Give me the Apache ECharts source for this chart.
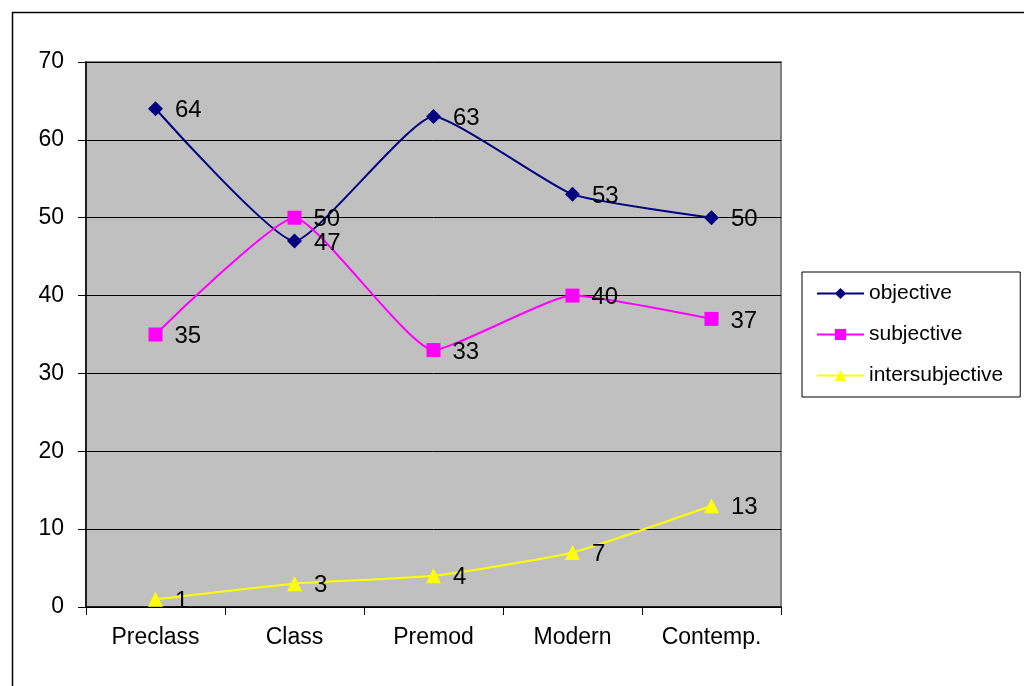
<!DOCTYPE html>
<html>
<head>
<meta charset="utf-8">
<script src="https://cdn.jsdelivr.net/npm/echarts@6/dist/echarts.min.js"></script>
<style>
html,body{margin:0;padding:0;background:#fff;}
#chart{width:1024px;height:686px;}
</style>
</head>
<body>
<div id="chart"></div>
<script>
const categories = ["Preclass", "Class", "Premod", "Modern", "Contemp."];
const objective = [64, 47, 63, 53, 50];
const subjective = [35, 50, 33, 40, 37];
const intersubjective = [1, 3, 4, 7, 13];
const seriesNames = ["objective", "subjective", "intersubjective"];

const FONT = "Arial, 'Liberation Sans', sans-serif";
const chart = echarts.init(document.getElementById('chart'));

function lineSeries(name, data, color, symbol, size) {
  return {
    name: name,
    type: 'line',
    data: data,
    smooth: 0.15,
    symbol: symbol,
    symbolSize: size,
    showAllSymbol: true,
    lineStyle: { color: color, width: 2 },
    itemStyle: { color: color },
    label: {
      show: true,
      position: 'right',
      distance: 12,
      offset: [0, 2],
      color: '#000',
      fontSize: 24,
      fontFamily: FONT
    },
    emphasis: { disabled: true },
    z: 3
  };
}

chart.setOption({
  animation: false,
  backgroundColor: '#fff',
  graphic: [{
    type: 'rect',
    shape: { x: 12.5, y: 12.5, width: 1100, height: 700 },
    style: { fill: 'none', stroke: '#000', lineWidth: 1.5 },
    silent: true,
    z: 100
  }],
  grid: {
    left: 86, right: 243, top: 62, bottom: 79,
    show: true,
    backgroundColor: '#c0c0c0',
    borderColor: '#808080',
    borderWidth: 2
  },
  legend: {
    orient: 'vertical',
    left: 802,
    top: 272,
    data: seriesNames,
    itemWidth: 47,
    itemHeight: 14,
    itemGap: 20,
    padding: [11, 17, 11, 14],
    borderColor: '#000',
    borderWidth: 1,
    backgroundColor: '#fff',
    textStyle: { fontSize: 21, color: '#000', fontFamily: FONT }
  },
  xAxis: {
    type: 'category',
    data: categories,
    boundaryGap: true,
    axisLine: { show: true, lineStyle: { color: '#000', width: 1.5 } },
    axisTick: { show: true, length: 8, lineStyle: { color: '#000' } },
    axisLabel: { fontSize: 23, color: '#000', fontFamily: FONT, margin: 19 },
    splitLine: { show: false }
  },
  yAxis: {
    type: 'value',
    min: 0, max: 70, interval: 10,
    axisLine: { show: true, lineStyle: { color: '#000', width: 1.5 } },
    axisTick: { show: true, length: 8, lineStyle: { color: '#000' } },
    axisLabel: { fontSize: 23, color: '#000', fontFamily: FONT, margin: 22 },
    splitLine: { show: true, lineStyle: { color: '#000', width: 1 } }
  },
  series: [
    lineSeries(seriesNames[0], objective, '#000080', 'diamond', 15),
    lineSeries(seriesNames[1], subjective, '#ff00ff', 'rect', 14),
    lineSeries(seriesNames[2], intersubjective, '#ffff00', 'triangle', 15)
  ]
});
</script>
</body>
</html>
